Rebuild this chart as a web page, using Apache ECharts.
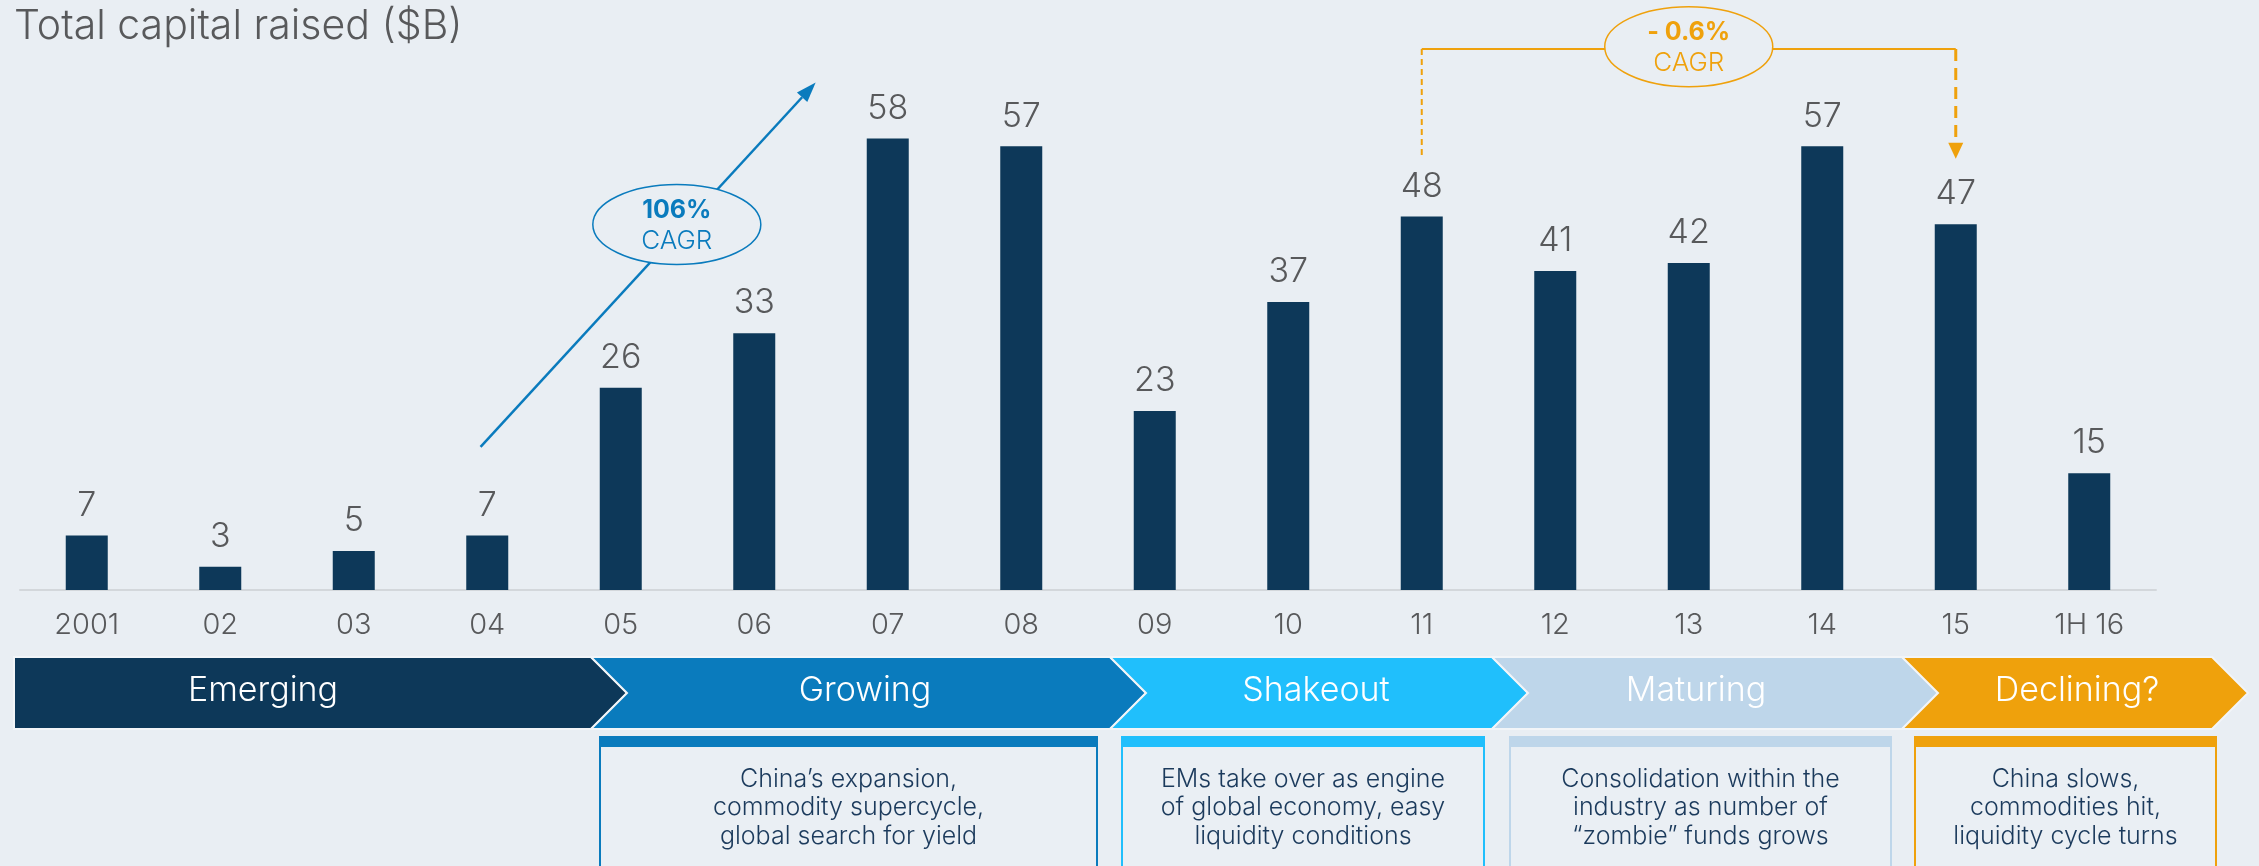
<!DOCTYPE html>
<html>
<head>
<meta charset="utf-8">
<title>Total capital raised ($B)</title>
<script src="https://cdn.jsdelivr.net/npm/echarts@6/dist/echarts.min.js"></script>
<style>
  html, body { margin: 0; padding: 0; background: #E9EEF3; }
  #chart { width: 2259px; height: 866px; }
</style>
</head>
<body>
<div id="chart"></div>
<script>
// ---- data ----
const categories = ['2001', '02', '03', '04', '05', '06', '07', '08', '09', '10', '11', '12', '13', '14', '15', '1H 16'];
const capitalRaised = [7, 3, 5, 7, 26, 33, 58, 57, 23, 37, 48, 41, 42, 57, 47, 15];
const titleText = 'Total capital raised ($B)';
const growthCagr = ['106%', 'CAGR'];
const declineCagr = ['- 0.6%', 'CAGR'];
const phaseNames = ['Emerging', 'Growing', 'Shakeout', 'Maturing', 'Declining?'];
const phaseNotes = [
  null,
  ['China\u2019s expansion,', 'commodity supercycle,', 'global search for yield'],
  ['EMs take over as engine', 'of global economy, easy', 'liquidity conditions'],
  ['Consolidation within the', 'industry as number of', '\u201Czombie\u201D funds grows'],
  ['China slows,', 'commodities hit,', 'liquidity cycle turns']
];

// ---- look ----
const BG = '#E9EEF3';
const NAVY = '#0D3859';
const BLUE = '#0A7BBD';
const ORANGE = '#EFA10C';
const GREY_TEXT = '#58595B';
const FONT = 'Inter, "Open Sans", sans-serif';
const phaseColors = ['#0D3859', '#0A7BBD', '#20BFFC', '#BED6EA', '#EFA10C'];

// chevron band layout (pixels)
const bandTop = 657, bandBottom = 729, tipDepth = 36;
const phaseBack = [14, 591, 1110, 1492, 1902];
const phaseFront = [591, 1110, 1492, 1902, 2212];
const phaseTextX = [263, 865, 1316, 1696, 2077];
const noteBoxes = [null, [600, 1097], [1122, 1484], [1510, 1891], [1915, 2216]];

const chart = echarts.init(document.getElementById('chart'), null, { renderer: 'canvas' });

chart.setOption({
  backgroundColor: BG,
  animation: false,
  grid: { left: 20, right: 103, top: 123, bottom: 276 },
  xAxis: {
    type: 'category',
    data: categories,
    axisLine: { lineStyle: { color: '#D3D7DB', width: 2 } },
    axisTick: { show: false },
    axisLabel: { color: GREY_TEXT, fontSize: 29, fontWeight: 300, fontFamily: FONT, margin: 21 }
  },
  yAxis: { type: 'value', min: 0, max: 60, show: false, splitLine: { show: false } },
  series: [{
    type: 'bar',
    data: capitalRaised,
    barWidth: 42,
    itemStyle: { color: NAVY },
    label: {
      show: true, position: 'top', distance: 13,
      color: GREY_TEXT, fontSize: 34, fontWeight: 300, fontFamily: FONT
    }
  }]
});

// position on the category/value grid, allowing fractional category positions
function at(i, v) {
  const a = chart.convertToPixel({ gridIndex: 0 }, [0, v]);
  const b = chart.convertToPixel({ gridIndex: 0 }, [1, v]);
  return [a[0] + i * (b[0] - a[0]), a[1]];
}

function text(x, y, str, size, color, weight) {
  return {
    type: 'text', x: x, y: y, z: 20,
    style: {
      text: str, fill: color, font: (weight || 'normal') + ' ' + size + 'px ' + FONT,
      textAlign: 'center', textVerticalAlign: 'middle'
    }
  };
}

const g = [];

// title
g.push({
  type: 'text', left: 14, top: 6, z: 20,
  style: { text: titleText, fill: GREY_TEXT, font: '300 41px ' + FONT }
});

// growth arrow with CAGR bubble
const gs = at(2.95, 18.4), ge = at(5.46, 65.2);
const ang = Math.atan2(ge[1] - gs[1], ge[0] - gs[0]);
const headLen = 20, headHalf = 7;
const hb = [ge[0] - headLen * Math.cos(ang), ge[1] - headLen * Math.sin(ang)];
g.push({ type: 'line', z: 10, shape: { x1: gs[0], y1: gs[1], x2: hb[0], y2: hb[1] }, style: { stroke: BLUE, lineWidth: 2.5 } });
g.push({
  type: 'polygon', z: 10,
  shape: { points: [ge,
    [hb[0] + headHalf * Math.sin(ang), hb[1] - headHalf * Math.cos(ang)],
    [hb[0] - headHalf * Math.sin(ang), hb[1] + headHalf * Math.cos(ang)]] },
  style: { fill: BLUE }
});
const gc = at(4.42, 46.96);
g.push({ type: 'ellipse', z: 15, shape: { cx: gc[0], cy: gc[1], rx: 84, ry: 40 }, style: { fill: BG, stroke: BLUE, lineWidth: 1.5 } });
g.push(text(gc[0], gc[1] - 14, growthCagr[0], 25, BLUE, 'bold'));
g.push(text(gc[0], gc[1] + 17, growthCagr[1], 26, BLUE, '300'));

// 2011 -> 2015 bracket with CAGR bubble
const topY = at(0, 69.5)[1];
const lx = at(10, 0)[0], rx = at(14, 0)[0];
const endY = at(0, 55.4)[1];
g.push({ type: 'line', z: 10, shape: { x1: lx, y1: topY, x2: lx, y2: endY }, style: { stroke: ORANGE, lineWidth: 2, lineDash: [6, 4] } });
g.push({ type: 'line', z: 10, shape: { x1: lx, y1: topY, x2: rx, y2: topY }, style: { stroke: ORANGE, lineWidth: 2 } });
g.push({ type: 'line', z: 10, shape: { x1: rx, y1: topY, x2: rx, y2: endY - 16 }, style: { stroke: ORANGE, lineWidth: 3, lineDash: [12, 7] } });
g.push({ type: 'polygon', z: 10, shape: { points: [[rx - 7.5, endY - 16], [rx + 7.5, endY - 16], [rx, endY]] }, style: { fill: ORANGE } });
const oc = at(12, 69.8);
g.push({ type: 'ellipse', z: 15, shape: { cx: oc[0], cy: oc[1], rx: 84, ry: 40 }, style: { fill: BG, stroke: ORANGE, lineWidth: 1.5 } });
g.push(text(oc[0], oc[1] - 14, declineCagr[0], 25, ORANGE, 'bold'));
g.push(text(oc[0], oc[1] + 16, declineCagr[1], 26, ORANGE, '300'));

// phase chevrons
const midY = (bandTop + bandBottom) / 2;
phaseNames.forEach(function (name, k) {
  const L = phaseBack[k], R = phaseFront[k];
  const pts = [[L, bandTop], [R, bandTop], [R + tipDepth, midY], [R, bandBottom], [L, bandBottom]];
  if (k > 0) pts.push([L + tipDepth, midY]);
  g.push({ type: 'polygon', z: 5, shape: { points: pts }, style: { fill: phaseColors[k], stroke: '#F2F5F8', lineWidth: 2 } });
  g.push(text(phaseTextX[k], midY - 2, name, 34, '#FFFFFF', '300'));

  const box = noteBoxes[k];
  if (box) {
    g.push({ type: 'rect', z: 5, shape: { x: box[0], y: 737, width: box[1] - box[0], height: 160 }, style: { fill: 'rgba(255,255,255,0.08)', stroke: phaseColors[k], lineWidth: 2 } });
    g.push({ type: 'rect', z: 6, shape: { x: box[0], y: 737, width: box[1] - box[0], height: 10 }, style: { fill: phaseColors[k] } });
    const cx = (box[0] + box[1]) / 2;
    phaseNotes[k].forEach(function (line, j) {
      g.push(text(cx, 779 + j * 28.5, line, 25, '#1B3A5C', '300'));
    });
  }
});

chart.setOption({ graphic: g });
</script>
</body>
</html>
